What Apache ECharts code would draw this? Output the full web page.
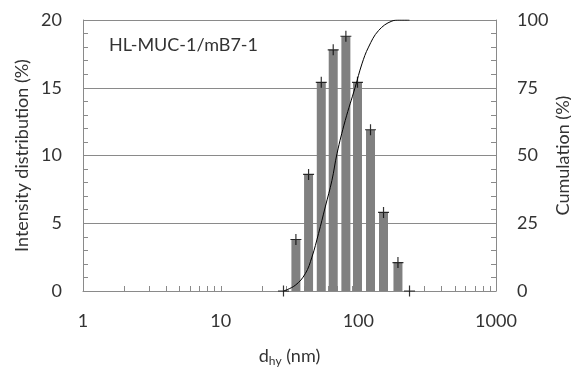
<!DOCTYPE html>
<html>
<head>
<meta charset="utf-8">
<script src="https://cdn.jsdelivr.net/npm/echarts@6/dist/echarts.min.js"></script>
<style>
  html, body { margin: 0; padding: 0; background: #fff; }
  #chart { width: 571px; height: 368px; }
</style>
</head>
<body>
<div id="chart"></div>
<script>
// hydrodynamic diameter bins (nm) and intensity (%)
const binSizes = [35.2, 43.5, 53.8, 65.7, 81.2, 98.6, 122.6, 152.4, 194];
const intensity = [3.8, 8.6, 15.4, 17.8, 18.8, 15.4, 11.9, 5.8, 2.1];
// empty neighbour bins marked on the baseline
const edgeSizes = [28.6, 235.4];
const edgeValues = [0, 0];

// cumulative curve (%)
const cumSizes = [28.6, 34.8, 41.2, 46.0, 51.4, 57.5, 64.3, 70.0, 80.3, 94.9, 106.2, 118.6, 140.2, 175.4, 200, 235];
const cumValues = [0, 2.1, 6.4, 12.5, 21.2, 31.0, 40.8, 50.7, 62.9, 75.2, 83.8, 90.0, 96.1, 99.6, 100, 100];

// log axis ticks 2..9 of each decade plus the decades
const xTickValues = [];
[1, 10, 100].forEach(dec => {
  for (let k = 1; k <= 9; k++) xTickValues.push(k * dec);
});

const FONT = 'Lato';
const TXT = '#333';
const LINE = '#8a8a8a';

const chart = echarts.init(document.getElementById('chart'));

const markerData = binSizes.map((s, i) => [s, intensity[i]])
  .concat(edgeSizes.map((s, i) => [s, edgeValues[i]]));

chart.setOption({
  animation: false,
  textStyle: { fontFamily: FONT },
  grid: { left: 83, right: 75, top: 20, bottom: 77, containLabel: false, outerBoundsMode: 'none' },
  xAxis: {
    type: 'log',
    logBase: 10,
    min: 1,
    max: 1000,
    name: '{a|d}{b|hy}{a| (nm)}',
    nameLocation: 'middle',
    nameGap: 54,
    nameMoveOverlap: false,
    nameTextStyle: {
      rich: {
        a: { fontFamily: FONT, fontSize: 18, color: TXT },
        b: { fontFamily: FONT, fontSize: 12, color: TXT, padding: [10, 0, 0, 0] }
      }
    },
    axisLine: { show: true, lineStyle: { color: LINE, width: 1 } },
    axisTick: { show: false },
    splitLine: { show: false },
    axisLabel: { fontFamily: FONT, fontSize: 18, color: TXT, margin: 21, formatter: v => String(v) }
  },
  yAxis: [{
    type: 'value',
    min: 0,
    max: 20,
    interval: 5,
    position: 'left',
    name: 'Intensity distribution (%)',
    nameLocation: 'middle',
    nameGap: 52,
    nameMoveOverlap: false,
    nameTextStyle: { fontFamily: FONT, fontSize: 18, color: TXT },
    axisLine: { show: true, lineStyle: { color: LINE, width: 1 } },
    axisTick: { show: true, inside: true, length: 5, lineStyle: { color: LINE } },
    minorTick: { show: true, splitNumber: 5, length: 5, lineStyle: { color: LINE } },
    splitLine: { show: true, lineStyle: { color: LINE, width: 1 } },
    axisLabel: { fontFamily: FONT, fontSize: 18, color: TXT, margin: 21 }
  }, {
    type: 'value',
    min: 0,
    max: 100,
    interval: 25,
    position: 'right',
    name: 'Cumulation (%)',
    nameLocation: 'middle',
    nameGap: 58,
    nameMoveOverlap: false,
    nameTextStyle: { fontFamily: FONT, fontSize: 18, color: TXT },
    axisLine: { show: true, lineStyle: { color: LINE, width: 1 } },
    axisTick: { show: true, inside: true, length: 5, lineStyle: { color: LINE } },
    minorTick: { show: true, splitNumber: 5, length: 5, lineStyle: { color: LINE } },
    splitLine: { show: false },
    axisLabel: { fontFamily: FONT, fontSize: 18, color: TXT, margin: 21 }
  }],
  graphic: [{
    type: 'text',
    left: 109,
    top: 36,
    style: { text: 'HL-MUC-1/mB7-1', fontFamily: FONT, fontSize: 18, fill: TXT }
  }],
  series: [{
    type: 'custom',
    name: 'xticks',
    silent: true,
    xAxisIndex: 0,
    yAxisIndex: 0,
    data: xTickValues.map(v => [v, 0]),
    renderItem: (params, api) => {
      const p = api.coord([api.value(0), 0]);
      const x = Math.round(p[0]) + 0.5;
      return {
        type: 'line',
        shape: { x1: x, y1: p[1], x2: x, y2: p[1] - 5 },
        style: { stroke: LINE, lineWidth: 1 }
      };
    },
    z: 1
  }, {
    type: 'bar',
    name: 'Intensity',
    yAxisIndex: 0,
    barWidth: 9,
    data: binSizes.map((s, i) => [s, intensity[i]]),
    itemStyle: { color: '#808080' },
    z: 2
  }, {
    type: 'line',
    name: 'Cumulation',
    yAxisIndex: 1,
    data: cumSizes.map((s, i) => [s, cumValues[i]]),
    smooth: 0.4,
    showSymbol: false,
    lineStyle: { color: '#000', width: 1 },
    z: 3
  }, {
    type: 'scatter',
    name: 'markers',
    yAxisIndex: 0,
    data: markerData,
    symbol: 'path://M0,5L10,5M5,0L5,10',
    symbolSize: 11,
    itemStyle: { color: 'none', borderColor: '#000', borderWidth: 1.2 },
    z: 4
  }]
});
</script>
</body>
</html>
